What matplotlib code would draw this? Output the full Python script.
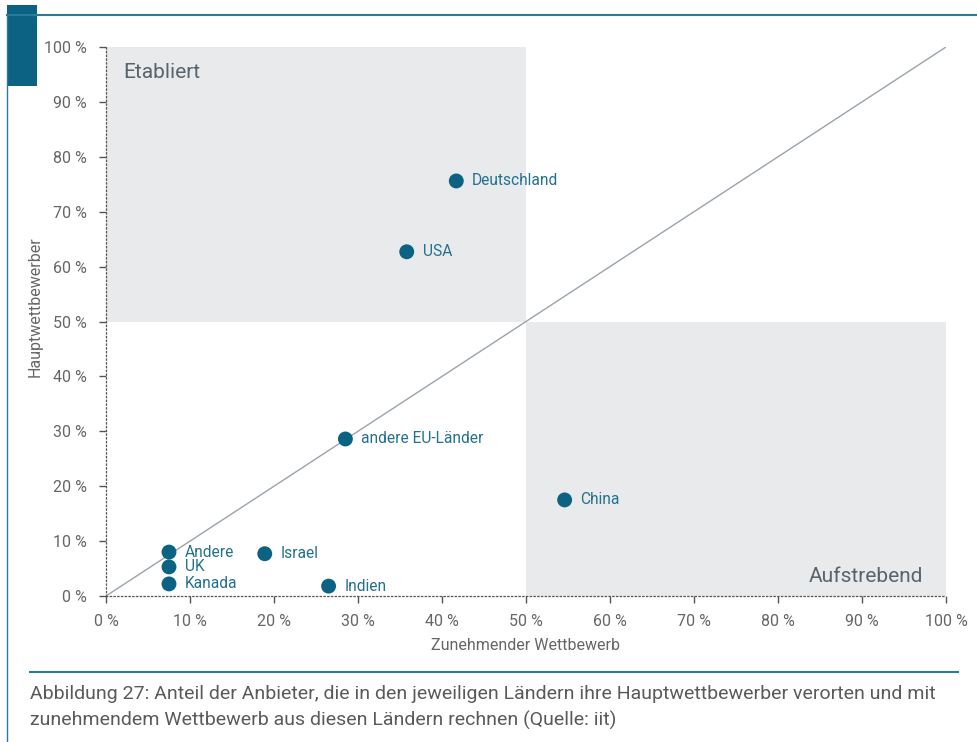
import matplotlib
matplotlib.use("Agg")
import matplotlib.pyplot as plt
from matplotlib.patches import Rectangle
from matplotlib.lines import Line2D

countries = ["Deutschland", "USA", "andere EU-Länder", "China", "Israel", "Indien", "Andere", "UK", "Kanada"]
wettbewerb = [41.7, 35.8, 28.5, 54.6, 18.9, 26.5, 7.5, 7.5, 7.5]
haupt = [75.6, 62.7, 28.6, 17.5, 7.7, 1.8, 8.0, 5.3, 2.2]
ticks = [0, 10, 20, 30, 40, 50, 60, 70, 80, 90, 100]
tick_labels = [f"{t} %" for t in ticks]

plt.rcParams['font.family'] = ['Roboto', 'DejaVu Sans']

marker_c = "#0b6283"
label_c = "#22718f"
gray_txt = "#666666"
frame_c = "#2a7a99"

fig = plt.figure(figsize=(9.78, 7.42), dpi=100)
ax = fig.add_axes([106/978, 1-596/742, 840/978, 549/742])
ax.set_xlim(0, 100)
ax.set_ylim(0, 100)

ax.add_patch(Rectangle((0, 50), 50, 50, facecolor="#e9eaec", edgecolor="none", zorder=0))
ax.add_patch(Rectangle((50, 0), 50, 50, facecolor="#e9eaec", edgecolor="none", zorder=0))
ax.plot([0, 100], [0, 100], color="#9aa3ab", lw=1.0, zorder=1)

ax.scatter(wettbewerb, haupt, s=115, color=marker_c, zorder=3, edgecolors="none")
for c, x, y in zip(countries, wettbewerb, haupt):
    ax.text(x + 1.9, y, c, color=label_c, fontsize=11.2, va="center", ha="left", zorder=4)

ax.text(2.1, 95.3, "Etabliert", fontsize=15, color="#58636a", va="center", ha="left")
ax.text(97.3, 3.6, "Aufstrebend", fontsize=15, color="#58636a", va="center", ha="right")

for s in ["top", "right"]:
    ax.spines[s].set_visible(False)
for s in ["left", "bottom"]:
    ax.spines[s].set_linestyle((0, (1, 2)))
    ax.spines[s].set_color("#555555")
    ax.spines[s].set_linewidth(0.9)

ax.set_xticks(ticks)
ax.set_xticklabels(tick_labels)
ax.set_yticks(ticks)
ax.set_yticklabels(tick_labels)
ax.tick_params(axis="both", colors="#555555", labelcolor=gray_txt, labelsize=11.5, length=5, width=1, direction="out")
ax.tick_params(axis="x", pad=8)
ax.tick_params(axis="y", pad=9)

ax.set_xlabel("Zunehmender Wettbewerb", fontsize=11.5, color=gray_txt)
ax.set_ylabel("Hauptwettbewerber", fontsize=11.5, color=gray_txt)
ax.xaxis.set_label_coords(0.5, (596 - 645) / 549, transform=ax.transAxes)
ax.yaxis.set_label_coords((35 - 106) / 840, (596 - 307) / 549, transform=ax.transAxes)
ax.xaxis.label.set_va("center")
ax.yaxis.label.set_va("center")

# frame decorations
fig.add_artist(Line2D([7/978, 1.0], [1-15/742, 1-15/742], color=frame_c, lw=1.5, transform=fig.transFigure))
fig.add_artist(Line2D([7.5/978, 7.5/978], [0, 1-15/742], color=frame_c, lw=1.0, transform=fig.transFigure))
fig.add_artist(Rectangle((7/978, 1-86/742), 30/978, 81/742, facecolor="#0b6283", edgecolor="none", transform=fig.transFigure))
fig.add_artist(Line2D([30/978, 958/978], [1-672/742, 1-672/742], color=frame_c, lw=1.5, transform=fig.transFigure))

fig.text(30/978, 1-694/742, "Abbildung 27: Anteil der Anbieter, die in den jeweiligen Ländern ihre Hauptwettbewerber verorten und mit",
         fontsize=14, color="#5a5a5a", va="center", ha="left")
fig.text(30/978, 1-720/742, "zunehmendem Wettbewerb aus diesen Ländern rechnen (Quelle: iit)",
         fontsize=14, color="#5a5a5a", va="center", ha="left")

fig.savefig("out.png", dpi=100)
